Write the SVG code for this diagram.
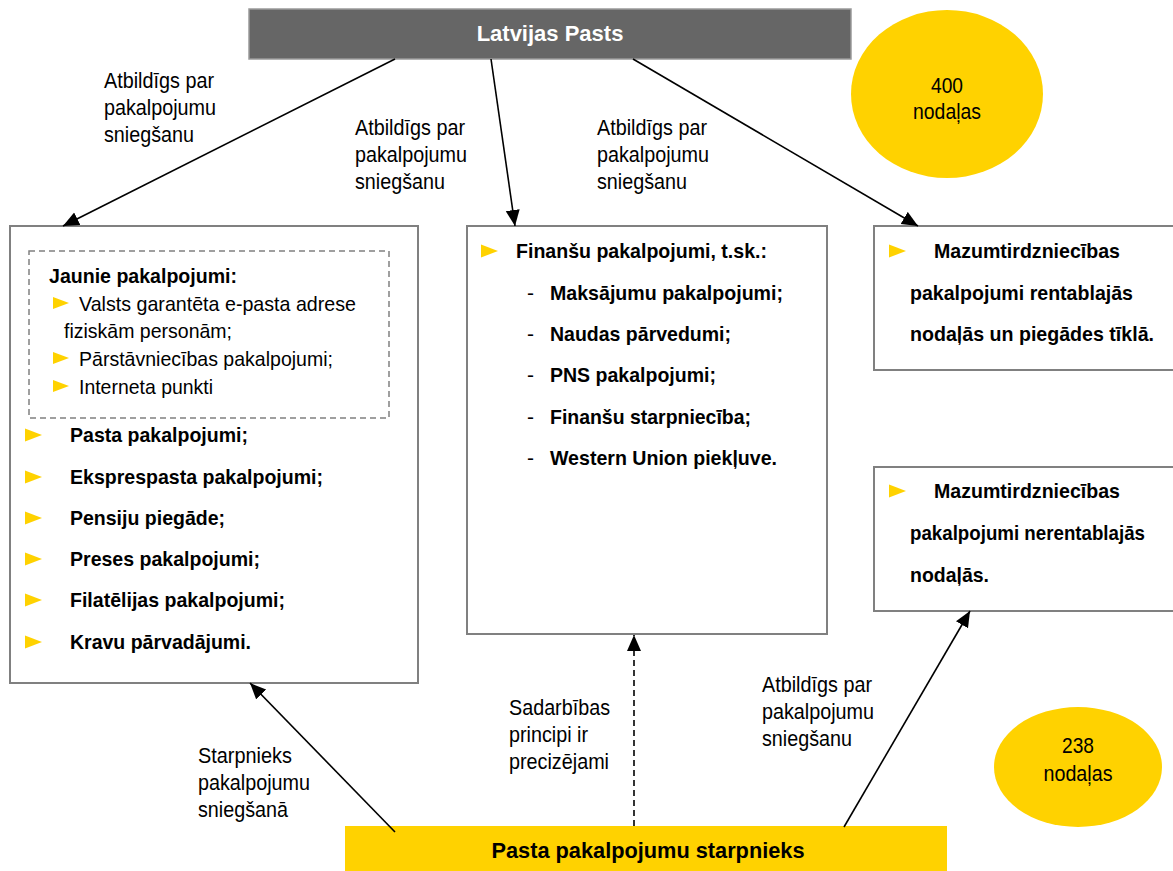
<svg xmlns="http://www.w3.org/2000/svg" xmlns:xlink="http://www.w3.org/1999/xlink" width="1173" height="871" viewBox="0 0 1173 871">
<style>
text{font-family:"Liberation Sans",Arial,sans-serif;fill:#000}
.lbl{font-size:21.5px}
.b{font-size:21px;font-weight:bold}
.r{font-size:21px}
.box{fill:#fff;stroke:#808080;stroke-width:2}
.yel{fill:#FFD200}
.edge{stroke:#000;stroke-width:1.6;fill:none}
.dash{stroke-dasharray:6,4}
</style>
<defs>
<marker id="ah" markerUnits="userSpaceOnUse" markerWidth="18" markerHeight="16" refX="16" refY="7" orient="auto">
<path d="M0,0 L16,7 L0,14 Z" fill="#000"/>
</marker>
<polygon id="bul" points="0,-6.5 17,0 0,6.5" fill="#FFD200"/>
<polygon id="bs" points="0,-6 16,0 0,6" fill="#FFD200"/>
</defs>

<g id="latvijas-pasts">
<rect x="249" y="9" width="602" height="50" fill="#666" stroke="#9a9a9a" stroke-width="1.5"/>
<text x="550" y="41" text-anchor="middle" style="font-size:22px;font-weight:bold;fill:#fff">Latvijas Pasts</text>
</g>

<g id="circle-400">
<ellipse cx="947" cy="94" rx="96" ry="84" class="yel"/>
<text class="lbl" x="947" y="93" text-anchor="middle" textLength="32" lengthAdjust="spacingAndGlyphs">400</text>
<text class="lbl" x="947" y="119" text-anchor="middle" textLength="68" lengthAdjust="spacingAndGlyphs">nodaļas</text>
</g>

<g id="box-left">
<rect class="box" x="10" y="226" width="408" height="457"/>
<rect x="29" y="251" width="360" height="167" fill="none" stroke="#808080" stroke-width="1.5" stroke-dasharray="6,4"/>
<text class="b" x="49" y="283" textLength="188" lengthAdjust="spacingAndGlyphs">Jaunie pakalpojumi:</text>
<use href="#bs" x="53" y="303"/>
<text class="r" x="79" y="311" textLength="277" lengthAdjust="spacingAndGlyphs">Valsts garantēta e-pasta adrese</text>
<text class="r" x="64" y="338" textLength="168" lengthAdjust="spacingAndGlyphs">fiziskām personām;</text>
<use href="#bs" x="53" y="358"/>
<text class="r" x="79" y="366" textLength="254" lengthAdjust="spacingAndGlyphs">Pārstāvniecības pakalpojumi;</text>
<use href="#bs" x="53" y="386"/>
<text class="r" x="79" y="394" textLength="134" lengthAdjust="spacingAndGlyphs">Interneta punkti</text>
<use href="#bul" x="25" y="435"/>
<text class="b" x="70" y="442" textLength="178" lengthAdjust="spacingAndGlyphs">Pasta pakalpojumi;</text>
<use href="#bul" x="25" y="477"/>
<text class="b" x="70" y="484" textLength="253" lengthAdjust="spacingAndGlyphs">Eksprespasta pakalpojumi;</text>
<use href="#bul" x="25" y="518"/>
<text class="b" x="70" y="525" textLength="155" lengthAdjust="spacingAndGlyphs">Pensiju piegāde;</text>
<use href="#bul" x="25" y="559"/>
<text class="b" x="70" y="566" textLength="190" lengthAdjust="spacingAndGlyphs">Preses pakalpojumi;</text>
<use href="#bul" x="25" y="600"/>
<text class="b" x="70" y="607" textLength="215" lengthAdjust="spacingAndGlyphs">Filatēlijas pakalpojumi;</text>
<use href="#bul" x="25" y="642"/>
<text class="b" x="70" y="649" textLength="181" lengthAdjust="spacingAndGlyphs">Kravu pārvadājumi.</text>
</g>

<g id="box-middle">
<rect class="box" x="467" y="226" width="360" height="408"/>
<use href="#bul" x="481" y="251"/>
<text class="b" x="516" y="258" textLength="251" lengthAdjust="spacingAndGlyphs">Finanšu pakalpojumi, t.sk.:</text>
<text class="r" x="527" y="300">-</text>
<text class="b" x="550" y="300" textLength="233" lengthAdjust="spacingAndGlyphs">Maksājumu pakalpojumi;</text>
<text class="r" x="527" y="341">-</text>
<text class="b" x="550" y="341" textLength="181" lengthAdjust="spacingAndGlyphs">Naudas pārvedumi;</text>
<text class="r" x="527" y="382">-</text>
<text class="b" x="550" y="382" textLength="166" lengthAdjust="spacingAndGlyphs">PNS pakalpojumi;</text>
<text class="r" x="527" y="424">-</text>
<text class="b" x="550" y="424" textLength="201" lengthAdjust="spacingAndGlyphs">Finanšu starpniecība;</text>
<text class="r" x="527" y="465">-</text>
<text class="b" x="550" y="465" textLength="227" lengthAdjust="spacingAndGlyphs">Western Union piekļuve.</text>
</g>

<g id="box-right-top">
<rect class="box" x="874" y="226" width="310" height="144"/>
<use href="#bul" x="889" y="251"/>
<text class="b" x="934" y="258" textLength="186" lengthAdjust="spacingAndGlyphs">Mazumtirdzniecības</text>
<text class="b" x="910" y="300" textLength="223" lengthAdjust="spacingAndGlyphs">pakalpojumi rentablajās</text>
<text class="b" x="910" y="341" textLength="244" lengthAdjust="spacingAndGlyphs">nodaļās un piegādes tīklā.</text>
</g>

<g id="box-right-bottom">
<rect class="box" x="874" y="467" width="310" height="144"/>
<use href="#bul" x="889" y="491"/>
<text class="b" x="934" y="498" textLength="186" lengthAdjust="spacingAndGlyphs">Mazumtirdzniecības</text>
<text class="b" x="910" y="540" textLength="235" lengthAdjust="spacingAndGlyphs">pakalpojumi nerentablajās</text>
<text class="b" x="910" y="582" textLength="79" lengthAdjust="spacingAndGlyphs">nodaļās.</text>
</g>

<g id="circle-238">
<ellipse cx="1078" cy="767" rx="84" ry="60" class="yel"/>
<text class="lbl" x="1078" y="753" text-anchor="middle" textLength="32" lengthAdjust="spacingAndGlyphs">238</text>
<text class="lbl" x="1078" y="781" text-anchor="middle" textLength="69" lengthAdjust="spacingAndGlyphs">nodaļas</text>
</g>

<g id="starpnieks">
<rect x="345" y="826" width="602" height="50" class="yel"/>
<text x="648" y="858" text-anchor="middle" style="font-size:22.5px;font-weight:bold" textLength="313" lengthAdjust="spacingAndGlyphs">Pasta pakalpojumu starpnieks</text>
</g>

<g id="connectors">
<line class="edge" x1="395" y1="59" x2="63" y2="226" marker-end="url(#ah)"/>
<line class="edge" x1="491" y1="59" x2="515" y2="226" marker-end="url(#ah)"/>
<line class="edge" x1="633" y1="59" x2="918" y2="226" marker-end="url(#ah)"/>
<line class="edge" x1="395" y1="832" x2="250" y2="683" marker-end="url(#ah)"/>
<line class="edge dash" x1="634" y1="826" x2="634" y2="635" marker-end="url(#ah)"/>
<line class="edge" x1="844" y1="827" x2="970" y2="611" marker-end="url(#ah)"/>
</g>

<g id="labels">
<text class="lbl" x="104" y="88" textLength="110" lengthAdjust="spacingAndGlyphs">Atbildīgs par</text>
<text class="lbl" x="104" y="115" textLength="112" lengthAdjust="spacingAndGlyphs">pakalpojumu</text>
<text class="lbl" x="104" y="142" textLength="90" lengthAdjust="spacingAndGlyphs">sniegšanu</text>
<text class="lbl" x="355" y="135" textLength="110" lengthAdjust="spacingAndGlyphs">Atbildīgs par</text>
<text class="lbl" x="355" y="162" textLength="112" lengthAdjust="spacingAndGlyphs">pakalpojumu</text>
<text class="lbl" x="355" y="189" textLength="90" lengthAdjust="spacingAndGlyphs">sniegšanu</text>
<text class="lbl" x="597" y="135" textLength="110" lengthAdjust="spacingAndGlyphs">Atbildīgs par</text>
<text class="lbl" x="597" y="162" textLength="112" lengthAdjust="spacingAndGlyphs">pakalpojumu</text>
<text class="lbl" x="597" y="189" textLength="90" lengthAdjust="spacingAndGlyphs">sniegšanu</text>
<text class="lbl" x="509" y="715" textLength="101" lengthAdjust="spacingAndGlyphs">Sadarbības</text>
<text class="lbl" x="509" y="742" textLength="79" lengthAdjust="spacingAndGlyphs">principi ir</text>
<text class="lbl" x="509" y="769" textLength="100" lengthAdjust="spacingAndGlyphs">precizējami</text>
<text class="lbl" x="762" y="692" textLength="110" lengthAdjust="spacingAndGlyphs">Atbildīgs par</text>
<text class="lbl" x="762" y="719" textLength="112" lengthAdjust="spacingAndGlyphs">pakalpojumu</text>
<text class="lbl" x="762" y="746" textLength="90" lengthAdjust="spacingAndGlyphs">sniegšanu</text>
<text class="lbl" x="198" y="763" textLength="94" lengthAdjust="spacingAndGlyphs">Starpnieks</text>
<text class="lbl" x="198" y="790" textLength="112" lengthAdjust="spacingAndGlyphs">pakalpojumu</text>
<text class="lbl" x="198" y="817" textLength="90" lengthAdjust="spacingAndGlyphs">sniegšanā</text>
</g>
</svg>
